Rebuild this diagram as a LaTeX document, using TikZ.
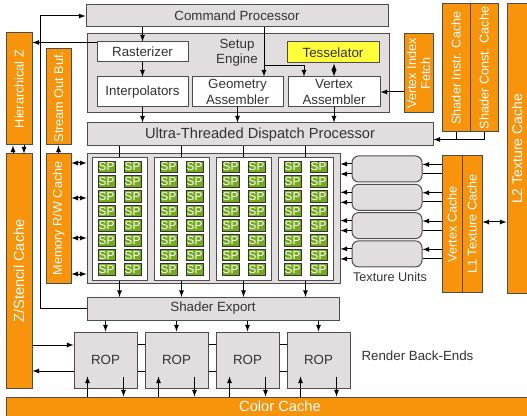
\documentclass[tikz,border=0pt]{standalone}
\usepackage{fontspec}
\setmainfont{Liberation Sans}
\usetikzlibrary{fit}
\definecolor{amdorange}{RGB}{247,148,12}
\definecolor{boxgray}{RGB}{226,222,224}
\definecolor{spgreen}{RGB}{118,170,30}
\definecolor{tessyellow}{RGB}{255,255,58}
\definecolor{edge}{RGB}{77,77,77}
\definecolor{ink}{RGB}{51,51,51}

\begin{document}
\begin{tikzpicture}[x=0.75pt, y=-0.75pt, >=latex, line width=0.75pt,
    blk/.style = {draw=edge, fill=boxgray, inner sep=0pt},
    wblk/.style = {blk, fill=white},
    txt/.style = {text=ink, align=center, inner sep=0pt, font=\fontsize{10}{11.5}\selectfont},
    big/.style = {font=\fontsize{11}{13}\selectfont},
    cache/.style = {draw=edge, fill=amdorange, inner sep=0pt},
    vlabel/.style = {rotate=90, text=white, align=center, inner sep=0pt, font=\fontsize{9.5}{10.5}\selectfont},
    col/.style = {draw=edge, fill=white, inner sep=0pt},
    sp/.style = {draw=black!80, fill=spgreen, text=white, inner sep=0pt, minimum width=12.75pt, minimum height=8.8pt, font=\fontsize{8.8}{8.8}\selectfont},
    rop/.style = {blk, txt, minimum width=47.25pt, minimum height=42pt},
    tu/.style = {blk, rounded corners=5pt, minimum width=52.5pt, minimum height=19.5pt}]
    \clip (0,0) rectangle (527,416);

    % front end
    \node[blk, fit={(86,5) (388,27)}] (cmd) {};
    \node[txt] (cmdlbl) at (cmd) {Command Processor};
    \node[blk, fit={(87,34) (389,113)}] (setup) {};
    \node[txt] (setuplbl) at (237,53) {Setup\\Engine};
    \node[wblk, fit={(97,42) (188,62)}] (raster) {};
    \node[txt] (rasterlbl) at (raster) {Rasterizer};
    \node[wblk, fit={(97,77) (188,107)}] (interp) {};
    \node[txt] (interplbl) at (interp) {Interpolators};
    \node[blk, fill=tessyellow, fit={(287,42) (379,63)}] (tess) {};
    \node[txt] (tesslbl) at (tess) {Tesselator};
    \node[wblk, fit={(192,77) (283,107)}] (geo) {};
    \node[txt] (geolbl) at (geo) {Geometry\\Assembler};
    \node[wblk, fit={(288,77) (380,107)}] (vtx) {};
    \node[txt] (vtxlbl) at (vtx) {Vertex\\Assembler};
    \node[blk, fit={(87,123) (433,146)}] (disp) {};
    \node[txt, big] (displbl) at (disp) {Ultra-Threaded Dispatch Processor};

    % caches
    \node[cache, fit={(404,34) (433,113)}] (vif) {};
    \node[vlabel] (viflbl) at (vif) {Vertex Index\\Fetch};
    \node[cache, fit={(442,4) (470,132)}] (sic) {};
    \node[vlabel] (siclbl) at (sic) {Shader Instr. Cache};
    \node[cache, fit={(470,4) (498,132)}] (scc) {};
    \node[vlabel] (scclbl) at (scc) {Shader Const. Cache};
    \node[cache, fit={(507,4) (535,293)}] (l2) {};
    \node[vlabel, font=\fontsize{10.5}{12}\selectfont] (l2lbl) at (517,149) {L2 Texture Cache};
    \node[cache, fit={(6,33) (32,145)}] (hz) {};
    \node[vlabel] (hzlbl) at (hz) {Hierarchical Z};
    \node[cache, fit={(6,154) (32,388)}] (zs) {};
    \node[vlabel, big] (zslbl) at (zs) {Z/Stencil Cache};
    \node[cache, fit={(46,49) (71,145)}] (sob) {};
    \node[vlabel] (soblbl) at (sob) {Stream Out Buf.};
    \node[cache, fit={(46,154) (71,283)}] (mrw) {};
    \node[vlabel] (mrwlbl) at (mrw) {Memory R/W Cache};
    \node[cache, fit={(442,156) (462,292)}] (vc) {};
    \node[vlabel] (vclbl) at (vc) {Vertex Cache};
    \node[cache, fit={(462,156) (482,292)}] (l1) {};
    \node[vlabel] (l1lbl) at (l1) {L1 Texture Cache};
    \node[cache, fit={(6,397) (554,420)}] (cc) {};
    \node[txt, big, text=white] (cclbl) at (280,406) {Color Cache};

    % shader array
    \node[blk, fit={(87,154) (340,283)}] (sparr) {};
    \foreach \i in {0,...,3}{
        \node[col, fit={(92+62*\i,158) (147+62*\i,280)}] (col\i) {};
        \foreach \j in {0,...,7}{
            \node[sp] (spa\i\j) at (106.5+62*\i,166.9+14.7*\j) {SP};
            \node[sp] (spb\i\j) at (132.5+62*\i,166.9+14.7*\j) {SP};
        }
        \draw (disp.south -| col\i) -- (col\i.north);
        \draw[->] (col\i.south) -- (col\i.south |- 0,297);
    }

    % texture units
    \foreach \i in {0,...,3}{
        \node[tu] (tu\i) at (387,169+28.3*\i) {};
        \draw[->] ([yshift=3.75pt]tu\i.west) -- ([yshift=3.75pt]tu\i.west -| sparr.east);
        \draw[->] ([yshift=-3.75pt]tu\i.west) -- ([yshift=-3.75pt]tu\i.west -| sparr.east);
        \draw[->] ([yshift=3.4pt]tu\i.east -| vc.west) -- ([yshift=3.4pt]tu\i.east);
        \draw ([yshift=-3.4pt]tu\i.east) -- ([yshift=-3.4pt]tu\i.east -| vc.west);
    }
    \node[txt, font=\fontsize{9.5}{11}\selectfont] (tulbl) at (390,277) {Texture Units};

    % back end
    \node[blk, fit={(87,297) (339,320)}] (sexp) {};
    \node[txt] (sexplbl) at (sexp) {Shader Export};
    \foreach \k in {0,...,3}{
        \node[rop] (rop\k) at (105.5+71*\k,360) {ROP};
        \draw[->] (sexp.south -| rop\k) -- (rop\k.north);
        \coordinate (up\k) at ([xshift=10.5pt]rop\k.south west);
        \coordinate (dn\k) at ([xshift=-10.5pt]rop\k.south east);
        \draw[->] (up\k |- cc.north) -- ([yshift=9pt]up\k);
        \draw[->] ([yshift=9pt]dn\k) -- (dn\k |- cc.north);
    }
    \foreach \k/\n in {0/1,1/2,2/3}{
        \draw (rop\k.east |- 0,344) -- (rop\n.west |- 0,344);
        \draw (rop\k.east |- 0,371) -- (rop\n.west |- 0,371);
    }
    \node[txt, anchor=west] (rbelbl) at (361,356) {Render Back-Ends};

    % connectors
    \draw[->] (cmd.south -| raster) -- (raster.north);
    \draw[->] (raster.south) -- (interp.north);
    \draw[->] (interp.south) -- (interp.south |- disp.north);
    \coordinate (split) at (264,66);
    \coordinate (vtxin) at (304,66);
    \draw (cmd.south -| split) -- (split);
    \draw[->] (split) -- (split |- geo.north);
    \draw[->] (split) -- (vtxin) -- (vtxin |- vtx.north);
    \draw[<->] (tess.south -| vtx) -- (vtx.north);
    \draw[->] (geo.south) -- (geo.south |- disp.north);
    \draw[->] (vtx.south) -- (vtx.south |- disp.north);
    \draw[->] (vif.west |- vtx.east) -- (vtx.east);
    \draw[->] ([yshift=-0.75pt]raster.north west) -- ([yshift=-0.75pt]raster.north west -| hz.east);
    \draw (sic.south) -- ++(0,7) coordinate (cj) -| (scc.south);
    \draw[->] (cj) -- (cj -| disp.east);
    \draw[->] ([xshift=-4.5pt]zs.north) -- ([xshift=-4.5pt]hz.south);
    \draw[->] ([xshift=3.75pt]hz.south) -- ([xshift=3.75pt]zs.north);
    \draw[->] (mrw.north) -- (sob.south);
    \foreach \yy in {163,198,238,274}
        \draw[<->] (mrw.east |- 0,\yy) -- (sparr.west |- 0,\yy);
    \draw[->] (sexp.west) -- (sexp.west -| 40,0) |- (cmd.west);
    \draw[->] (zs.east |- 0,345) -- (rop0.west |- 0,345);
    \draw[->] (rop0.west |- 0,371) -- (zs.east |- 0,371);
    \draw[<->] (l1.east |- 0,222) -- (l2.west |- 0,222);
\end{tikzpicture}
\end{document}
